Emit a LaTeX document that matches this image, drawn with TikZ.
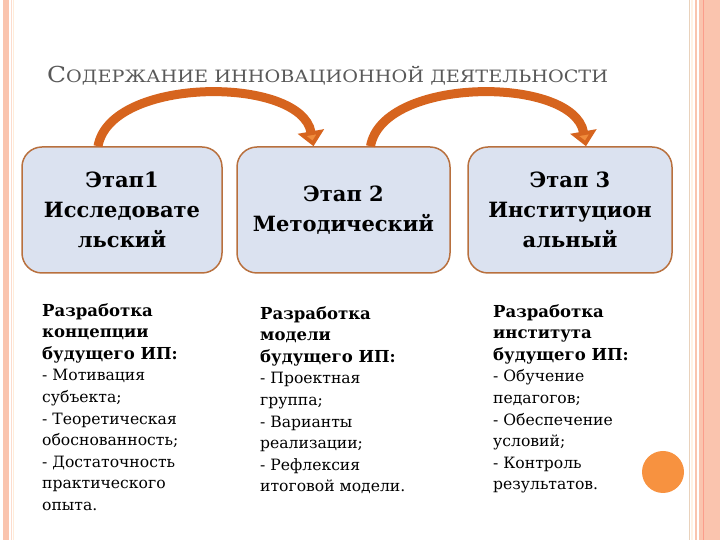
\documentclass[tikz,border=0pt]{standalone}
\usepackage{graphicx}
\usepackage{fontspec}
\setmainfont{DejaVu Serif}
\usetikzlibrary{arrows.meta}
\definecolor{framesalmon}{RGB}{250,196,174}
\definecolor{stagefill}{RGB}{219,226,240}
\definecolor{stageedge}{RGB}{184,112,62}
\definecolor{arroworange}{RGB}{214,100,30}
\definecolor{arrowlight}{RGB}{240,140,60}
\definecolor{dotorange}{RGB}{247,146,64}
\definecolor{titlegray}{RGB}{89,89,89}
\newcommand{\notehead}[1]{{\bfseries\fontsize{16.5}{21.7}\selectfont #1}}
\tikzset{
  stage/.style={draw=stageedge,line width=1.5pt,fill=stagefill,rounded corners=20pt,
    minimum height=126pt,inner sep=0pt,align=center,
    font=\bfseries\fontsize{21}{30}\selectfont},
  stepnote/.style={anchor=north west,align=left,inner sep=0pt,
    font=\fontsize{15.6}{21.6}\selectfont},
  jump/.style={line width=9pt,draw=arroworange,-{Triangle[length=15pt,width=26pt,fill=arrowlight]}},
}

\begin{document}
\begin{tikzpicture}[x=1pt,y=1pt]
  \useasboundingbox (0,0) rectangle (720,540);
  % frame stripes
  \fill[framesalmon] (3,0) rectangle (9,540);
  \draw[framesalmon!60,line width=1pt] (11,0) -- (11,540);
  \draw[orange!15,line width=1pt] (13.5,0) -- (13.5,540);
  \draw[brown!35,line width=1pt] (689,0) -- (689,540);
  \draw[orange!10,line width=2pt] (692,0) -- (692,540);
  \draw[framesalmon,line width=1.5pt] (696,0) -- (696,540);
  \fill[framesalmon] (699,0) rectangle (720,540);
  \draw[framesalmon!80!red,line width=1pt] (703,0) -- (703,540);
  % title
  \node[anchor=base west,inner sep=0pt,text=titlegray] (title) at (47,457)
    {\scalebox{1.13}[1]{\fontsize{22}{22}\selectfont С\fontsize{17}{17}\selectfont ОДЕРЖАНИЕ ИННОВАЦИОННОЙ ДЕЯТЕЛЬНОСТИ}};
  % stages
  \node[stage,minimum width=200pt] (st1) at (122,330) {Этап1\\Исследовате\\льский};
  \node[stage,minimum width=213pt] (st2) at (343.5,330) {Этап 2\\Методический};
  \node[stage,minimum width=204pt] (st3) at (570,330) {Этап 3\\Институцион\\альный};
  \draw[jump] ([xshift=-24pt]st1.north) to[out=80,in=100,looseness=.85] ([xshift=-30pt]st2.north);
  \draw[jump] ([xshift=27pt]st2.north) to[out=80,in=100,looseness=.85] ([xshift=16pt]st3.north);
  % notes
  \node[stepnote] (n1) at (42,237) {\notehead{Разработка}\\\notehead{концепции}\\\notehead{будущего ИП:}\\
    - Мотивация\\субъекта;\\- Теоретическая\\обоснованность;\\- Достаточность\\практического\\опыта.};
  \node[stepnote] (n2) at (260,234) {\notehead{Разработка}\\\notehead{модели}\\\notehead{будущего ИП:}\\
    - Проектная\\группа;\\- Варианты\\реализации;\\- Рефлексия\\итоговой модели.};
  \node[stepnote] (n3) at (493,236) {\notehead{Разработка}\\\notehead{института}\\\notehead{будущего ИП:}\\
    - Обучение\\педагогов;\\- Обеспечение\\условий;\\- Контроль\\результатов.};
  \fill[dotorange] (663,68) circle[radius=21pt];
\end{tikzpicture}
\end{document}
